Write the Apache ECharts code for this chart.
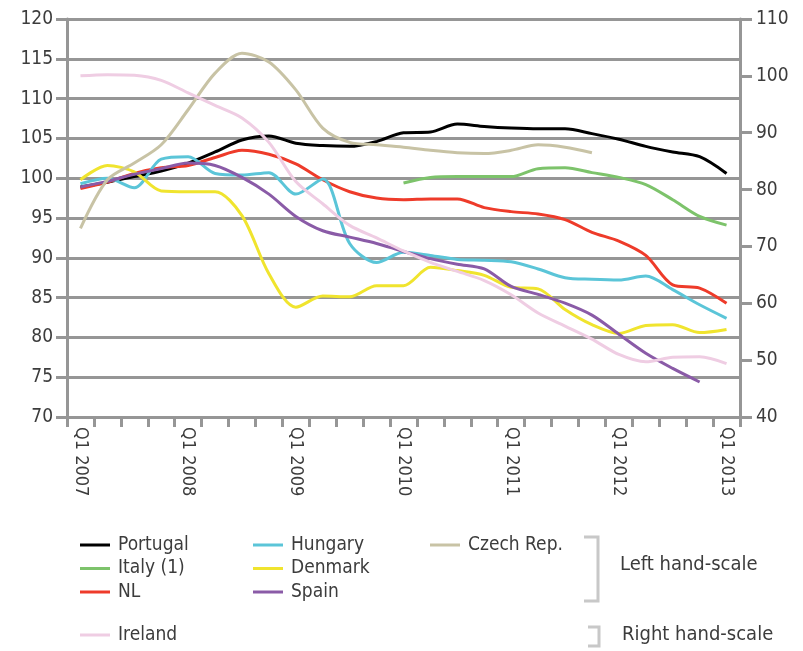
<!DOCTYPE html>
<html>
<head>
<meta charset="utf-8">
<script src="https://cdn.jsdelivr.net/npm/echarts@6/dist/echarts.min.js"></script>
<style>
  html, body { margin: 0; padding: 0; background: #fff; }
  #chart { width: 803px; height: 651px; }
</style>
</head>
<body>
<div id="chart"></div>
<script>
  // quarters, Q1 2007 .. Q1 2013
  const quarters = [
    'Q1 2007', 'Q2 2007', 'Q3 2007', 'Q4 2007',
    'Q1 2008', 'Q2 2008', 'Q3 2008', 'Q4 2008',
    'Q1 2009', 'Q2 2009', 'Q3 2009', 'Q4 2009',
    'Q1 2010', 'Q2 2010', 'Q3 2010', 'Q4 2010',
    'Q1 2011', 'Q2 2011', 'Q3 2011', 'Q4 2011',
    'Q1 2012', 'Q2 2012', 'Q3 2012', 'Q4 2012',
    'Q1 2013'
  ];

  // left hand-scale
  const portugal = [98.9, 99.5, 100.2, 100.9, 101.9, 103.3, 104.8, 105.3, 104.4, 104.1, 104.0, 104.6, 105.7,
    105.8, 106.8, 106.5, 106.3, 106.2, 106.2, 105.6, 104.9, 104.0, 103.3, 102.7, 100.6];
  const italy = [null, null, null, null, null, null, null, null, null, null, null, null, 99.4,
    100.1, 100.2, 100.2, 100.2, 101.2, 101.3, 100.7, 100.1, 99.2, 97.3, 95.2, 94.1];
  const nl = [98.7, 99.5, 100.6, 101.3, 101.6, 102.6, 103.5, 103.0, 101.8, 99.8, 98.3, 97.5, 97.3,
    97.4, 97.4, 96.3, 95.8, 95.5, 94.8, 93.2, 92.1, 90.3, 86.6, 86.2, 84.3];
  const hungary = [99.3, 100.0, 98.8, 102.4, 102.7, 100.6, 100.4, 100.7, 98.0, 99.9, 91.8, 89.4, 90.7,
    90.3, 89.8, 89.7, 89.5, 88.6, 87.5, 87.3, 87.2, 87.7, 86.0, 84.1, 82.4];
  const denmark = [99.8, 101.6, 100.8, 98.4, 98.3, 98.3, 95.3, 88.0, 83.8, 85.2, 85.1, 86.5, 86.5,
    88.8, 88.4, 87.8, 86.3, 86.1, 83.5, 81.6, 80.5, 81.5, 81.6, 80.6, 81.0];
  const spain = [98.9, 99.6, 100.5, 101.2, 101.9, 101.6, 100.1, 98.0, 95.2, 93.4, 92.6, 91.8, 90.8,
    89.9, 89.2, 88.6, 86.4, 85.4, 84.3, 82.8, 80.4, 78.0, 76.1, 74.4, null];
  const czech = [93.7, 99.8, 101.9, 104.2, 108.6, 113.2, 115.7, 114.6, 111.1, 106.3, 104.5, 104.2, 103.9,
    103.5, 103.2, 103.1, 103.5, 104.2, 103.9, 103.2, null, null, null, null, null];

  // right hand-scale
  const ireland = [100.0, 100.2, 100.1, 99.2, 97.0, 94.8, 92.6, 88.3, 81.4, 77.5, 73.7, 71.5, 69.2,
    67.2, 65.6, 64.0, 61.5, 58.3, 56.0, 53.7, 51.0, 49.7, 50.5, 50.6, 49.4];

  const FONT = "'DejaVu Sans Condensed', 'Liberation Sans', sans-serif";
  const GRID = '#969696';
  const TEXT = '#3c3c3c';

  const mk = (name, data, color, axis) => ({
    name: name,
    type: 'line',
    yAxisIndex: axis,
    data: data,
    smooth: 0.3,
    symbol: 'none',
    connectNulls: false,
    lineStyle: { color: color, width: 3 },
    itemStyle: { color: color }
  });

  const series = [
    mk('Portugal', portugal, '#000000', 0),
    mk('Italy (1)', italy, '#7dc36b', 0),
    mk('NL', nl, '#ee3b2a', 0),
    mk('Hungary', hungary, '#5bc5d8', 0),
    mk('Denmark', denmark, '#f0e42e', 0),
    mk('Spain', spain, '#8a5ba7', 0),
    mk('Czech Rep.', czech, '#c8c3a5', 0),
    mk('Ireland', ireland, '#efcde3', 1)
  ];

  const legendBase = {
    orient: 'vertical',
    icon: 'rect',
    itemWidth: 30,
    itemHeight: 3,
    itemGap: 3.5,
    padding: 0,
    selectedMode: false,
    textStyle: { fontFamily: FONT, fontSize: 19, color: TEXT, lineHeight: 20, padding: [0, 0, 0, 3] }
  };

  const chart = echarts.init(document.getElementById('chart'));
  chart.setOption({
    animation: false,
    backgroundColor: '#fff',
    grid: { left: 67, right: 63, top: 19, bottom: 234 },
    legend: [
      Object.assign({}, legendBase, { left: 80, top: 535, data: ['Portugal', 'Italy (1)', 'NL'] }),
      Object.assign({}, legendBase, { left: 253, top: 535, data: ['Hungary', 'Denmark', 'Spain'] }),
      Object.assign({}, legendBase, { left: 430, top: 535, data: ['Czech Rep.'] }),
      Object.assign({}, legendBase, { left: 80, top: 625, data: ['Ireland'] })
    ],
    xAxis: {
      type: 'category',
      data: quarters,
      boundaryGap: true,
      axisLine: { lineStyle: { color: GRID, width: 3 } },
      axisTick: { show: true, interval: 0, length: 10, lineStyle: { color: GRID, width: 3 } },
      axisLabel: {
        interval: 3,
        rotate: -90,
        margin: 10,
        fontFamily: FONT,
        fontSize: 18,
        color: TEXT
      }
    },
    yAxis: [
      {
        type: 'value',
        min: 70,
        max: 120,
        interval: 5,
        position: 'left',
        axisLine: { show: true, lineStyle: { color: GRID, width: 3 } },
        axisTick: { show: true, length: 11, lineStyle: { color: GRID, width: 3 } },
        splitLine: { show: true, lineStyle: { color: GRID, width: 3 } },
        axisLabel: { margin: 14, fontFamily: FONT, fontSize: 19, color: TEXT }
      },
      {
        type: 'value',
        min: 40,
        max: 110,
        interval: 10,
        position: 'right',
        axisLine: { show: true, lineStyle: { color: GRID, width: 3 } },
        axisTick: { show: true, length: 12, lineStyle: { color: GRID, width: 3 } },
        splitLine: { show: false },
        axisLabel: { margin: 16, fontFamily: FONT, fontSize: 19, color: TEXT }
      }
    ],
    graphic: [
      {
        type: 'polyline',
        shape: { points: [[584, 537], [598, 537], [598, 601], [584, 601]] },
        style: { stroke: '#c8c8c8', lineWidth: 3, fill: null }
      },
      {
        type: 'text',
        left: 620,
        top: 555,
        style: { text: 'Left hand-scale', font: '20px ' + FONT, fill: TEXT }
      },
      {
        type: 'polyline',
        shape: { points: [[588, 627], [599, 627], [599, 646], [588, 646]] },
        style: { stroke: '#c8c8c8', lineWidth: 3, fill: null }
      },
      {
        type: 'text',
        left: 622,
        top: 625,
        style: { text: 'Right hand-scale', font: '20px ' + FONT, fill: TEXT }
      }
    ],
    series: series
  });
</script>
</body>
</html>
